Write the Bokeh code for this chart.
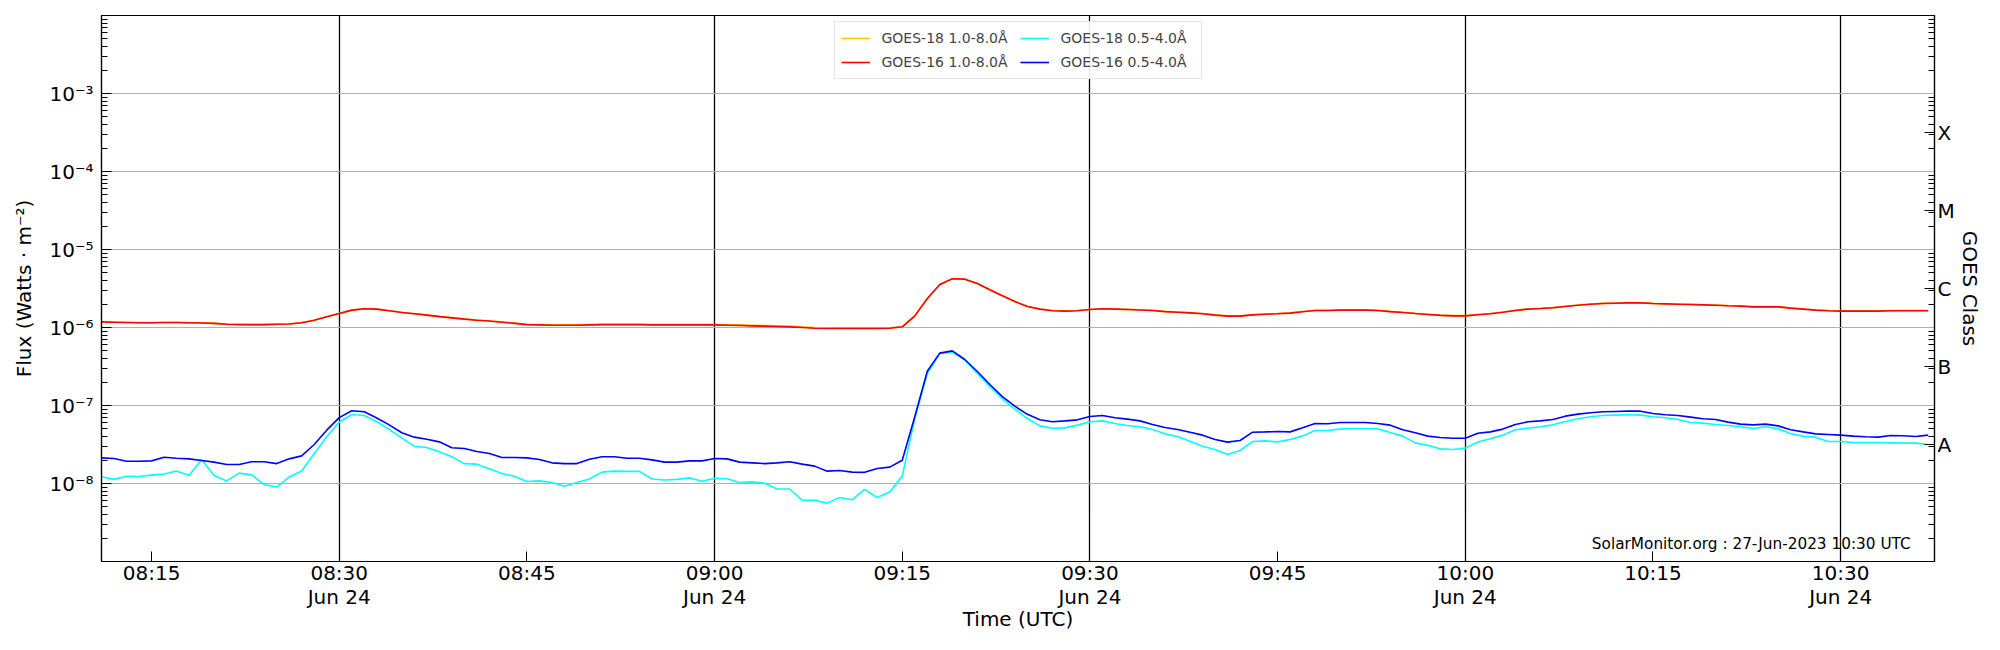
import math
from datetime import datetime, timedelta

from bokeh.plotting import figure
from bokeh.models import (Range1d, FixedTicker, CustomJSTickFormatter, LogAxis,
                          Label)
from bokeh.embed import file_html
from bokeh.resources import INLINE

# ---------------- data ----------------
t_start = datetime(2023, 6, 24, 8, 11)   # first sample (UTC), 1-minute cadence
cadence_min = 1

# GOES-16 1.0-8.0 A, in units of 1e-6 W m^-2
goes16_long_e6 = [
    1.18, 1.17, 1.16, 1.15, 1.15, 1.16, 1.16, 1.15, 1.14, 1.13, 1.10, 1.09, 1.09, 1.09, 1.10, 1.11,
    1.15, 1.24, 1.37, 1.51, 1.67, 1.74, 1.72, 1.64, 1.56, 1.50, 1.44, 1.38, 1.33, 1.28, 1.24, 1.21,
    1.17, 1.13, 1.09, 1.08, 1.07, 1.07,
    1.07, 1.08, 1.09, 1.09, 1.09, 1.09, 1.08, 1.08, 1.08, 1.08, 1.08, 1.08, 1.07, 1.06, 1.05, 1.04,
    1.03, 1.02, 1.00, 0.98, 0.97, 0.97, 0.97, 0.97, 0.97, 0.98, 1.02, 1.41, 2.35, 3.56, 4.21, 4.17,
    3.66, 3.04, 2.55, 2.15, 1.86,
    1.72, 1.64, 1.62, 1.64, 1.70, 1.74, 1.72, 1.70, 1.68, 1.65, 1.60, 1.57, 1.54, 1.50, 1.44, 1.40,
    1.40, 1.45, 1.48, 1.50, 1.53, 1.59, 1.65, 1.65, 1.67, 1.67, 1.67, 1.65, 1.60, 1.56, 1.51, 1.47,
    1.43, 1.41, 1.41, 1.46,
    1.50, 1.57, 1.65, 1.72, 1.75, 1.79, 1.86, 1.93, 1.99, 2.03, 2.05, 2.07, 2.07, 2.03, 2.01, 1.99,
    1.97, 1.95, 1.93, 1.90, 1.88, 1.84, 1.84, 1.84, 1.77, 1.72, 1.67, 1.64, 1.62, 1.62, 1.62, 1.62,
    1.64, 1.64, 1.64, 1.64,
]

# GOES-18 1.0-8.0 A, in units of 1e-6 W m^-2
goes18_long_e6 = [
    1.18, 1.17, 1.16, 1.16, 1.15, 1.16, 1.16, 1.15, 1.14, 1.13, 1.11, 1.10, 1.09, 1.09, 1.10, 1.11,
    1.15, 1.24, 1.37, 1.51, 1.66, 1.74, 1.72, 1.64, 1.57, 1.50, 1.45, 1.39, 1.33, 1.29, 1.25, 1.21,
    1.18, 1.14, 1.10, 1.09, 1.08, 1.08,
    1.08, 1.09, 1.10, 1.10, 1.10, 1.10, 1.09, 1.09, 1.09, 1.09, 1.09, 1.09, 1.08, 1.08, 1.07, 1.06,
    1.05, 1.04, 1.02, 1.00, 0.99, 0.98, 0.98, 0.98, 0.98, 0.99, 1.02, 1.40, 2.33, 3.54, 4.20, 4.16,
    3.66, 3.05, 2.56, 2.16, 1.87,
    1.73, 1.65, 1.63, 1.65, 1.70, 1.74, 1.73, 1.71, 1.69, 1.66, 1.61, 1.58, 1.55, 1.51, 1.45, 1.41,
    1.41, 1.46, 1.49, 1.51, 1.54, 1.60, 1.66, 1.66, 1.68, 1.68, 1.68, 1.66, 1.61, 1.57, 1.52, 1.48,
    1.44, 1.42, 1.42, 1.47,
    1.51, 1.58, 1.66, 1.73, 1.76, 1.80, 1.87, 1.94, 2.00, 2.04, 2.06, 2.08, 2.08, 2.04, 2.02, 2.00,
    1.98, 1.96, 1.94, 1.91, 1.89, 1.85, 1.85, 1.85, 1.78, 1.73, 1.68, 1.65, 1.63, 1.63, 1.63, 1.63,
    1.65, 1.65, 1.65, 1.65,
]

# GOES-16 0.5-4.0 A, in units of 1e-8 W m^-2
goes16_short_e8 = [
    2.13, 2.09, 1.93, 1.93, 1.95, 2.17, 2.11, 2.07, 1.97, 1.88, 1.75, 1.75, 1.90, 1.90, 1.80, 2.07,
    2.26, 3.16, 4.83, 7.00, 8.55, 8.30, 6.90, 5.65, 4.47, 3.93, 3.70, 3.42, 2.87, 2.81, 2.57, 2.42,
    2.15, 2.15, 2.13, 2.03, 1.84, 1.80,
    1.80, 2.05, 2.20, 2.20, 2.11, 2.11, 2.01, 1.88, 1.88, 1.95, 1.95, 2.09, 2.07, 1.88, 1.84, 1.80,
    1.84, 1.90, 1.77, 1.67, 1.44, 1.47, 1.40, 1.39, 1.56, 1.62, 1.99, 7.16, 27.5, 46.9, 50.2, 38.9,
    27.3, 18.6, 13.0, 9.8, 7.7,
    6.55, 6.18, 6.35, 6.55, 7.23, 7.45, 6.95, 6.68, 6.35, 5.71, 5.23, 4.93, 4.55, 4.17, 3.66, 3.39,
    3.56, 4.55, 4.59, 4.64, 4.59, 5.17, 5.88, 5.83, 6.06, 6.06, 6.06, 5.88, 5.60, 4.88, 4.47, 4.05,
    3.89, 3.81, 3.81, 4.40,
    4.59, 4.98, 5.71, 6.18, 6.35, 6.62, 7.30, 7.75, 8.06, 8.30, 8.38, 8.46, 8.46, 7.90, 7.60, 7.45,
    7.10, 6.76, 6.62, 6.12, 5.77, 5.65, 5.77, 5.48, 4.88, 4.59, 4.33, 4.25, 4.17, 4.05, 3.97, 3.93,
    4.13, 4.09, 4.00, 4.17,
]

# GOES-18 0.5-4.0 A, in units of 1e-8 W m^-2
goes18_short_e8 = [
    1.22, 1.13, 1.24, 1.23, 1.28, 1.32, 1.45, 1.27, 2.03, 1.27, 1.08, 1.36, 1.29, 0.97, 0.90, 1.21,
    1.45, 2.42, 3.97, 6.10, 7.67, 7.45, 6.20, 4.93, 3.81, 3.01, 2.89, 2.55, 2.20, 1.80, 1.77, 1.54,
    1.34, 1.24, 1.06, 1.08, 1.03, 0.92,
    1.03, 1.14, 1.40, 1.44, 1.43, 1.43, 1.14, 1.11, 1.13, 1.18, 1.07, 1.17, 1.15, 1.03, 1.05, 1.01,
    0.85, 0.85, 0.61, 0.61, 0.56, 0.66, 0.62, 0.84, 0.66, 0.78, 1.25, 6.8, 25.7, 46.4, 48.3, 38.1,
    25.7, 17.4, 12.2, 8.96, 6.8,
    5.48, 5.12, 5.17, 5.60, 6.18, 6.35, 5.88, 5.54, 5.33, 4.93, 4.33, 4.00, 3.49, 3.01, 2.73, 2.35,
    2.65, 3.45, 3.52, 3.42, 3.66, 4.08, 4.78, 4.78, 4.98, 5.07, 5.07, 5.02, 4.51, 4.05, 3.32, 3.10,
    2.78, 2.73, 2.84, 3.40,
    3.74, 4.17, 4.88, 5.12, 5.33, 5.65, 6.24, 6.76, 7.16, 7.45, 7.52, 7.60, 7.52, 7.16, 6.95, 6.62,
    6.06, 5.94, 5.71, 5.54, 5.33, 5.07, 5.33, 5.02, 4.38, 4.05, 3.93, 3.45, 3.45, 3.35, 3.35, 3.35,
    3.32, 3.29, 3.29, 3.16,
]

series_labels = ["GOES-18 1.0-8.0\u00c5", "GOES-16 1.0-8.0\u00c5",
                 "GOES-18 0.5-4.0\u00c5", "GOES-16 0.5-4.0\u00c5"]
series_colors = ["#FFC400", "#FF0000", "#00FFFF", "#0000FF"]

goes_classes = ["A", "B", "C", "M", "X"]
goes_class_exp = [-7.5, -6.5, -5.5, -4.5, -3.5]
flux_decades = [-9, -8, -7, -6, -5, -4, -3, -2]
labelled_decades = [-8, -7, -6, -5, -4, -3]

x_start = datetime(2023, 6, 24, 8, 11, 0)
x_end = datetime(2023, 6, 24, 10, 37, 30)
tick_start = datetime(2023, 6, 24, 8, 15)
tick_end = datetime(2023, 6, 24, 10, 30)
watermark = "SolarMonitor.org : 27-Jun-2023 10:30 UTC"
right_axis_title = "GOES Class"

# ---------------- build ----------------
times = [t_start + timedelta(minutes=cadence_min * i) for i in range(len(goes16_long_e6))]
series = [
    [v * 1e-6 for v in goes18_long_e6],
    [v * 1e-6 for v in goes16_long_e6],
    [v * 1e-8 for v in goes18_short_e8],
    [v * 1e-8 for v in goes16_short_e8],
]

EPOCH = datetime(1970, 1, 1)


def ms(dt):
    return (dt - EPOCH).total_seconds() * 1000.0


FONT = "DejaVu Sans"
W, H = 1984, 634
BL, BR, BT, BB = 101, 44, 15, 73

p = figure(width=W, height=H, x_axis_type="datetime", y_axis_type="log",
           x_range=Range1d(x_start, x_end), y_range=Range1d(1e-9, 1e-2),
           output_backend="svg", toolbar_location=None,
           min_border_left=BL, min_border_right=BR, min_border_top=BT, min_border_bottom=BB)
p.background_fill_color = "white"
p.border_fill_color = "white"
p.outline_line_color = "black"
p.outline_line_width = 1.2

for ys, lab, col in zip(series, series_labels, series_colors):
    p.line(times, ys, line_color=col, line_width=1.6, legend_label=lab)

# x axis
quarter_ticks = []
t = tick_start
while t <= tick_end:
    quarter_ticks.append(ms(t))
    t += timedelta(minutes=15)
half_ticks = [v for v in quarter_ticks if datetime.utcfromtimestamp(v / 1000).minute % 30 == 0]

xa = p.xaxis[0]
xa.ticker = FixedTicker(ticks=quarter_ticks)
xa.formatter = CustomJSTickFormatter(code="""
    const d = new Date(tick);
    const months = ['Jan','Feb','Mar','Apr','May','Jun','Jul','Aug','Sep','Oct','Nov','Dec'];
    const hh = String(d.getUTCHours()).padStart(2, '0');
    const mm = String(d.getUTCMinutes()).padStart(2, '0');
    let s = hh + ':' + mm;
    if (d.getUTCMinutes() % 30 == 0) { s += '\\n' + months[d.getUTCMonth()] + ' ' + d.getUTCDate(); }
    return s;
""")
xa.axis_label = "Time (UTC)"

# y axis (left)
minor = [k * 10.0 ** e for e in range(-9, -2) for k in range(2, 10)]
ya = p.yaxis[0]
ya.ticker = FixedTicker(ticks=[10.0 ** e for e in labelled_decades], minor_ticks=minor)
ya.formatter = CustomJSTickFormatter(code="""
    const sup = {'-':'\u207b','0':'\u2070','1':'\u00b9','2':'\u00b2','3':'\u00b3','4':'\u2074',
                 '5':'\u2075','6':'\u2076','7':'\u2077','8':'\u2078','9':'\u2079'};
    const e = Math.round(Math.log10(tick));
    return '10' + String(e).split('').map(c => sup[c]).join('');
""")
ya.axis_label = "Flux (Watts \u00b7 m\u207b\u00b2)"

# right class axis
ra = LogAxis(ticker=FixedTicker(ticks=[10.0 ** e for e in goes_class_exp], minor_ticks=minor),
             formatter=CustomJSTickFormatter(args=dict(exps=goes_class_exp, labs=goes_classes), code="""
    const e = Math.log10(tick);
    let best = '', bd = 1e9;
    for (let i = 0; i < exps.length; i++) {
        const dd = Math.abs(exps[i] - e);
        if (dd < bd) { bd = dd; best = labs[i]; }
    }
    return bd < 0.1 ? best : '';
"""), axis_label=right_axis_title)
p.add_layout(ra, "right")

for ax in [xa, ya, ra]:
    ax.axis_line_color = "black"
    ax.axis_line_width = 1.2
    ax.major_tick_line_color = "black"
    ax.minor_tick_line_color = "black"
    ax.major_tick_in = 10
    ax.major_tick_out = 0
    ax.minor_tick_in = 6
    ax.minor_tick_out = 0
    ax.major_label_text_font = FONT
    ax.major_label_text_font_size = "20px"
    ax.major_label_text_color = "black"
    ax.axis_label_text_font = FONT
    ax.axis_label_text_font_size = "20px"
    ax.axis_label_text_font_style = "normal"
    ax.axis_label_text_color = "black"

xa.minor_tick_in = 0
xa.major_label_standoff = -1
xa.major_label_text_line_height = 1.0
xa.axis_label_standoff = -5
ya.major_label_standoff = 8
ya.axis_label_standoff = 10
ra.major_label_standoff = 3
ra.axis_label_standoff = 0
ra.axis_label_orientation = "vertical"

# grids
p.xgrid.ticker = FixedTicker(ticks=half_ticks)
p.xgrid.grid_line_color = "black"
p.xgrid.grid_line_width = 1.3
p.ygrid.ticker = FixedTicker(ticks=[10.0 ** e for e in flux_decades])
p.ygrid.grid_line_color = "#b0b0b0"
p.ygrid.grid_line_width = 1.2

# watermark
p.add_layout(Label(x=ms(datetime(2023, 6, 24, 10, 35, 36)), y=1.7e-9, text=watermark,
                   text_align="right", text_baseline="alphabetic",
                   text_font=FONT, text_font_size="15.3px", text_color="black"))

# legend
lg = p.legend[0]
lg.location = "top_center"
lg.orientation = "vertical"
lg.nrows = 2
lg.label_text_font = FONT
lg.label_text_font_size = "14px"
lg.glyph_width = 29
lg.glyph_height = 20
lg.label_height = 20
lg.label_width = 134
lg.label_standoff = 12
lg.spacing = 4
lg.padding = 6
lg.margin = 6
lg.border_line_color = "#cccccc"
lg.border_line_width = 1
lg.background_fill_alpha = 0.9
lg.click_policy = "none"

open("out.html", "w").write(file_html(p, INLINE))
